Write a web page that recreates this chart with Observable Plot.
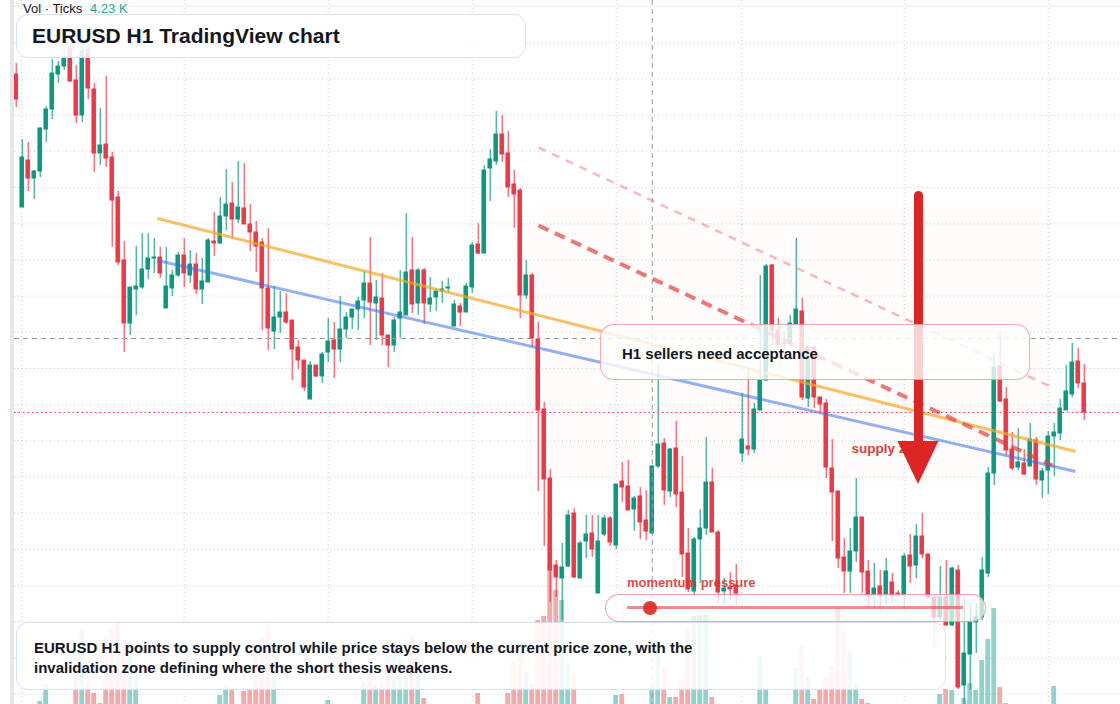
<!DOCTYPE html>
<html><head><meta charset="utf-8">
<script src="https://cdn.jsdelivr.net/npm/d3@7"></script>
<script src="https://cdn.jsdelivr.net/npm/@observablehq/plot@0.6"></script>
<style>
html,body{margin:0;padding:0;background:#fff;overflow:hidden;}
#wrap{position:relative;width:1120px;height:704px;font-family:"Liberation Sans",Arial,sans-serif;color:#131722;overflow:hidden;}
.layer{position:absolute;left:0;top:0;width:1120px;height:704px;}
.layer svg{display:block;}
.abs{position:absolute;box-sizing:border-box;}
.txt{position:absolute;white-space:nowrap;line-height:1;}
</style></head><body>
<div id="wrap">
  <div class="layer" id="back"></div>
  <div class="layer" id="vol"></div>
  <div class="layer" id="main"></div>
  <div class="abs" style="left:0;top:0;width:10px;height:704px;background:#fff"></div>
  <div class="abs" style="left:10px;top:0;width:4px;height:704px;background:#e6e7ea"></div>
  <div class="txt" style="left:23px;top:2px;font-size:13px;">Vol · Ticks</div>
  <div class="txt" id="volval" style="left:90px;top:2px;font-size:13px;color:#22ab94;"></div>
  <div class="abs" style="left:16px;top:14px;width:510px;height:44px;border:1.5px solid #d6e2f8;border-radius:12px;background:rgba(255,255,255,0.86)"></div>
  <div class="txt" style="left:32px;top:25.2px;font-size:21px;font-weight:bold;">EURUSD H1 TradingView chart</div>
  <div class="abs" style="left:600px;top:324px;width:430px;height:56px;border:1.5px solid rgba(238,100,100,0.55);border-radius:14px;background:rgba(255,255,255,0.8)"></div>
  <div class="txt" style="left:622px;top:346.3px;font-size:15px;font-weight:bold;">H1 sellers need acceptance</div>
  <div class="abs" style="left:605px;top:594px;width:381px;height:28px;border:1.5px solid rgba(238,100,100,0.6);border-radius:14px;background:rgba(255,255,255,0.72)"></div>
  <div class="abs" style="left:627px;top:606px;width:336px;height:3px;background:rgba(230,70,70,0.62)"></div>
  <div class="abs" id="mdot" style="top:600.5px;width:14px;height:14px;border-radius:7px;background:rgba(222,38,38,0.9)"></div>
  <div class="txt" style="left:627px;top:576px;font-size:13px;font-weight:bold;color:rgba(222,45,45,0.88);">momentum pressure</div>
  <div class="abs" style="left:16px;top:622px;width:930px;height:68px;border:1.5px solid #d6e2f8;border-radius:12px;background:rgba(255,255,255,0.88)"></div>
  <div class="abs" style="left:34px;top:637.8px;width:900px;font-size:15px;font-weight:bold;line-height:20px;">EURUSD H1 points to supply control while price stays below the current price zone, with the<br>invalidation zone defining where the short thesis weakens.</div>
</div>
<script>
// ---------- data (EURUSD H1 candles, left to right) ----------
const open = [
1.09778,1.09379,1.09520,1.09466,1.09487,1.09613,1.09673,1.09778,1.09802,1.09856,
1.09760,1.09655,1.09853,1.09733,1.09541,1.09568,1.09529,1.09409,1.09220,1.09031,
1.09133,1.09139,1.09193,1.09226,1.09229,1.09076,1.09136,1.09175,1.09235,1.09175,
1.09208,1.09133,1.09154,1.09277,1.09271,1.09352,1.09391,1.09343,1.09376,1.09328,
1.09304,1.09274,1.09136,1.09007,1.09049,1.09064,1.09040,1.08959,1.08920,1.08803,
1.08905,1.08872,1.08944,1.08980,1.08953,1.09013,1.09049,1.09073,1.09100,1.09151,
1.09091,1.09106,1.08995,1.08965,1.09046,1.09055,1.09190,1.09091,1.09190,1.09088,
1.09109,1.09127,1.09136,1.09022,1.09082,1.09064,1.09139,1.09268,1.09241,1.09496,
1.09517,1.09598,1.09541,1.09448,1.09430,1.09115,1.09175,1.08983,1.08773,1.08566,
1.08305,1.08266,1.08302,1.08461,1.08266,1.08377,1.08401,1.08221,1.08398,1.08446,
1.08365,1.08557,1.08542,1.08473,1.08512,1.08440,1.08401,1.08602,1.08671,1.08527,
1.08656,1.08524,1.08341,1.08227,1.08383,1.08416,1.08554,1.08404,1.08227,1.08239,
1.08245,1.08641,1.08662,1.08653,1.08770,1.08860,1.09205,1.09010,1.08968,1.08971,
1.09028,1.09067,1.08806,1.08959,1.08809,1.08791,1.08596,1.08527,1.08329,1.08287,
1.08347,1.08449,1.08287,1.08215,1.08242,1.08215,1.08254,1.08221,1.08215,1.08335,
1.08305,1.08392,1.08338,1.08209,1.08149,1.08209,1.08125,1.08290,1.07945,1.08038,
1.08134,1.08149,1.08281,1.08581,1.08902,1.08803,1.08653,1.08599,1.08611,1.08602,
1.08680,1.08560,1.08590,1.08692,1.08701,1.08770,1.08818,1.08917,1.08851];
const high = [
1.09811,1.09583,1.09574,1.09490,1.09619,1.09682,1.09823,1.09817,1.09856,1.09874,
1.09805,1.09880,1.09868,1.09751,1.09676,1.09772,1.09544,1.09427,1.09277,1.09139,
1.09262,1.09301,1.09301,1.09286,1.09259,1.09259,1.09190,1.09244,1.09286,1.09250,
1.09241,1.09226,1.09286,1.09364,1.09409,1.09493,1.09454,1.09517,1.09511,1.09388,
1.09337,1.09286,1.09316,1.09142,1.09127,1.09121,1.09040,1.08980,1.08920,1.08917,
1.08905,1.08944,1.09046,1.09034,1.09112,1.09064,1.09073,1.09109,1.09187,1.09289,
1.09160,1.09181,1.08995,1.09049,1.09190,1.09361,1.09289,1.09196,1.09196,1.09169,
1.09136,1.09157,1.09166,1.09100,1.09091,1.09151,1.09274,1.09331,1.09505,1.09553,
1.09667,1.09655,1.09607,1.09490,1.09436,1.09220,1.09181,1.09034,1.08794,1.08593,
1.08320,1.08371,1.08470,1.08476,1.08377,1.08455,1.08455,1.08455,1.08455,1.08452,
1.08548,1.08614,1.08620,1.08512,1.08539,1.08530,1.08605,1.08911,1.08686,1.08656,
1.08737,1.08632,1.08416,1.08389,1.08473,1.08689,1.08596,1.08410,1.08266,1.08284,
1.08308,1.08821,1.08893,1.08791,1.09175,1.09208,1.09208,1.09046,1.09010,1.09055,
1.09286,1.09106,1.08965,1.08965,1.08809,1.08803,1.08683,1.08527,1.08386,1.08416,
1.08566,1.08449,1.08320,1.08311,1.08290,1.08326,1.08281,1.08230,1.08341,1.08398,
1.08428,1.08461,1.08338,1.08215,1.08302,1.08320,1.08299,1.08305,1.08209,1.08188,
1.08191,1.08329,1.08599,1.08938,1.09004,1.08839,1.08704,1.08716,1.08653,1.08731,
1.08689,1.08596,1.08707,1.08731,1.08803,1.08905,1.08971,1.08956,1.08908];
const low = [
1.09679,1.09379,1.09427,1.09403,1.09469,1.09574,1.09643,1.09751,1.09790,1.09754,
1.09631,1.09634,1.09703,1.09484,1.09505,1.09499,1.09259,1.09205,1.08944,1.08995,
1.09055,1.09133,1.09163,1.09181,1.09166,1.09076,1.09112,1.09169,1.09139,1.09151,
1.09118,1.09088,1.09154,1.09232,1.09268,1.09310,1.09286,1.09331,1.09328,1.09247,
1.09184,1.09010,1.08950,1.08953,1.09001,1.09028,1.08860,1.08893,1.08827,1.08803,
1.08869,1.08851,1.08914,1.08866,1.08914,1.08986,1.09013,1.09010,1.09046,1.08965,
1.08980,1.08965,1.08899,1.08944,1.08986,1.09055,1.09061,1.09055,1.09028,1.09064,
1.09067,1.09091,1.09121,1.09022,1.09022,1.09064,1.09121,1.09238,1.09241,1.09397,
1.09505,1.09514,1.09409,1.09316,1.09046,1.09103,1.08959,1.08527,1.08362,1.08194,
1.08209,1.08140,1.08299,1.08266,1.08266,1.08326,1.08329,1.08221,1.08392,1.08362,
1.08353,1.08494,1.08470,1.08407,1.08383,1.08380,1.08398,1.08596,1.08485,1.08509,
1.08479,1.08269,1.08224,1.08212,1.08251,1.08395,1.08404,1.08191,1.08185,1.08200,
1.08185,1.08614,1.08635,1.08641,1.08770,1.08857,1.08965,1.08965,1.08950,1.08965,
1.09022,1.08800,1.08779,1.08776,1.08761,1.08566,1.08377,1.08296,1.08221,1.08221,
1.08314,1.08221,1.08179,1.08179,1.08170,1.08185,1.08191,1.08212,1.08170,1.08251,
1.08266,1.08326,1.08206,1.08059,1.08140,1.08122,1.08122,1.07933,1.07888,1.07930,
1.08041,1.08140,1.08269,1.08545,1.08794,1.08635,1.08590,1.08590,1.08575,1.08602,
1.08545,1.08506,1.08518,1.08572,1.08680,1.08770,1.08809,1.08836,1.08740];
const close = [
1.09703,1.09529,1.09466,1.09487,1.09616,1.09673,1.09781,1.09802,1.09829,1.09757,
1.09655,1.09847,1.09736,1.09541,1.09565,1.09526,1.09400,1.09214,1.09031,1.09139,
1.09142,1.09193,1.09226,1.09229,1.09181,1.09142,1.09175,1.09235,1.09181,1.09208,
1.09133,1.09157,1.09280,1.09271,1.09352,1.09388,1.09343,1.09379,1.09328,1.09304,
1.09262,1.09136,1.09016,1.09049,1.09064,1.09034,1.08953,1.08920,1.08839,1.08905,
1.08872,1.08938,1.08977,1.08953,1.09013,1.09049,1.09073,1.09097,1.09151,1.09094,
1.09109,1.08995,1.08965,1.09040,1.09064,1.09184,1.09088,1.09190,1.09091,1.09106,
1.09127,1.09133,1.09139,1.09088,1.09064,1.09142,1.09265,1.09241,1.09490,1.09523,
1.09598,1.09538,1.09439,1.09418,1.09115,1.09175,1.08986,1.08770,1.08563,1.08290,
1.08269,1.08299,1.08455,1.08269,1.08371,1.08398,1.08353,1.08377,1.08446,1.08374,
1.08548,1.08539,1.08470,1.08506,1.08434,1.08407,1.08602,1.08668,1.08530,1.08653,
1.08518,1.08338,1.08233,1.08383,1.08416,1.08554,1.08404,1.08224,1.08236,1.08233,
1.08221,1.08683,1.08653,1.08773,1.08860,1.09202,1.09010,1.08968,1.08971,1.09031,
1.09073,1.08809,1.08959,1.08809,1.08788,1.08599,1.08524,1.08326,1.08287,1.08347,
1.08449,1.08284,1.08215,1.08236,1.08215,1.08287,1.08215,1.08218,1.08332,1.08302,
1.08392,1.08338,1.08209,1.08149,1.08209,1.08125,1.08296,1.07939,1.08041,1.08137,
1.08149,1.08290,1.08581,1.08899,1.08797,1.08650,1.08596,1.08614,1.08578,1.08683,
1.08563,1.08587,1.08692,1.08704,1.08776,1.08827,1.08914,1.08851,1.08764];
// tick volume (bars below the pane edge read as 0)
const volume = [
0,0,0,0,90,600,0,0,0,0,
750,2220,690,330,30,1980,2220,2430,1920,1860,
840,0,0,0,0,0,0,0,0,0,
0,0,0,0,270,540,420,0,390,420,
1710,2010,2370,1020,0,0,0,0,0,0,
0,0,120,0,0,0,0,0,660,960,
570,660,1920,1560,1320,1020,2040,960,180,0,
0,0,0,0,0,0,0,330,0,0,
0,0,330,1290,1530,960,600,2520,2640,4170,
3420,3120,1230,900,0,0,0,0,0,0,
270,300,0,0,0,0,630,1470,1110,210,
210,720,2280,2640,2670,2670,210,0,0,0,
0,0,0,0,1410,420,0,0,0,0,
1080,1740,810,150,420,810,1140,2880,2160,1590,
600,150,30,0,0,0,0,0,0,0,
0,0,0,0,300,450,420,0,180,630,
420,1320,1950,2880,510,30,0,0,0,0,
0,0,0,540,0,0,0,0,0];
const volumeLabel = "4.23 K";
const gridPrices = [1.09982,1.09873,1.09765,1.09656,1.09548,1.09439,1.09330,1.09222,1.09113,1.09005,
  1.08896,1.08787,1.08679,1.08570,1.08462,1.08353,1.08244,1.08136,1.08027,1.07919];
const timeTicks = [0.9, 28, 52, 76, 100, 120.9, 148, 172];
const supplyZone = {start: 85.05, end: 172.7, top: 1.09379, bottom: 1.08557};
const resistanceLine = {i1: 23.55, p1: 1.09346, i2: 176.55, p2: 1.08647};
const supportLine = {i1: 23.55, p1: 1.09220, i2: 176.55, p2: 1.08587};
const upperChannel = {i1: 87.05, p1: 1.09559, i2: 172.7, p2: 1.08839};
const lowerChannel = {i1: 87.05, p1: 1.09325, i2: 172.7, p2: 1.08605};
const arrowPath = {i: 150.38, top: 1.09415, headTop: 1.08677, tip: 1.08548};
const crosshair = {i: 106, price: 1.08986};
const zoneLabel = {i: 139.2, price: 1.08654, text: "supply zone"};
const momentum = 0.07;

// ---------- layout constants ----------
const W = 1120, H = 704;
const X_DOMAIN = [-15.7 / 6, (W - 15.7) / 6];
const Y_DOMAIN = [1.07888, 1.1];
const BODY = 0.375, VOLW = 0.4, HEAD = 20.5 / 6, LEFT = -0.28;
const UP = "#089981", DN = "#f23645";

const N = open.length;
const idx = d3.range(N);
const upIdx = idx.filter(i => close[i] >= open[i]);
const dnIdx = idx.filter(i => close[i] < open[i]);
const base = {width: W, height: H, margin: 0,
  x: {type: "linear", domain: X_DOMAIN, axis: null},
  style: {background: "transparent", fontFamily: "Liberation Sans, Arial, sans-serif"}};

const back = Plot.plot({...base, y: {domain: Y_DOMAIN, axis: null}, marks: [
  Plot.rect([supplyZone], {x1: "start", x2: "end", y1: "bottom", y2: "top", fill: "#f4a582", fillOpacity: 0.035, rx: 12}),
  Plot.ruleY(gridPrices, {x1: LEFT, x2: X_DOMAIN[1], stroke: "#c7cad1", strokeDasharray: "1,3"}),
  Plot.ruleX(timeTicks, {stroke: "#c7cad1", strokeDasharray: "1,3"})
]});
document.getElementById("back").appendChild(back);

const volPlot = Plot.plot({...base, y: {domain: [0, 21120], axis: null}, marks: [
  Plot.rect(upIdx.filter(i => volume[i] > 0), {x1: i => i - VOLW, x2: i => i + VOLW, y1: 0, y2: i => volume[i], fill: "#26a69a", fillOpacity: 0.5}),
  Plot.rect(dnIdx.filter(i => volume[i] > 0), {x1: i => i - VOLW, x2: i => i + VOLW, y1: 0, y2: i => volume[i], fill: "#ef5350", fillOpacity: 0.5})
]});
document.getElementById("vol").appendChild(volPlot);

const link = (d, opts) => Plot.link([d], {x1: "i1", y1: "p1", x2: "i2", y2: "p2", ...opts});
const head = [
  {x: arrowPath.i - HEAD, y1: arrowPath.headTop, y2: arrowPath.headTop},
  {x: arrowPath.i, y1: arrowPath.headTop, y2: arrowPath.tip},
  {x: arrowPath.i + HEAD, y1: arrowPath.headTop, y2: arrowPath.headTop}];

const main = Plot.plot({...base, y: {domain: Y_DOMAIN, axis: null}, marks: [
  Plot.ruleX(upIdx, {x: i => i, y1: i => low[i], y2: i => high[i], stroke: UP, strokeWidth: 1}),
  Plot.ruleX(dnIdx, {x: i => i, y1: i => low[i], y2: i => high[i], stroke: DN, strokeWidth: 1}),
  Plot.rect(upIdx, {x1: i => i - BODY, x2: i => i + BODY, y1: i => open[i], y2: i => close[i], fill: UP, insetTop: -0.5, insetBottom: -0.5}),
  Plot.rect(dnIdx, {x1: i => i - BODY, x2: i => i + BODY, y1: i => open[i], y2: i => close[i], fill: DN, insetTop: -0.5, insetBottom: -0.5}),
  link(resistanceLine, {stroke: "#f5a623", strokeOpacity: 0.7, strokeWidth: 3}),
  link(supportLine, {stroke: "#3b6fe8", strokeOpacity: 0.55, strokeWidth: 3}),
  link(upperChannel, {stroke: "#ee5555", strokeOpacity: 0.4, strokeWidth: 2.5, strokeDasharray: "8,7"}),
  link(lowerChannel, {stroke: "#e53e3e", strokeOpacity: 0.7, strokeWidth: 4, strokeDasharray: "11,7"}),
  Plot.ruleY([close[N - 1]], {x1: LEFT, x2: X_DOMAIN[1], stroke: "#f23645", strokeDasharray: "1.5,3"}),
  Plot.ruleY([crosshair.price], {x1: LEFT, x2: X_DOMAIN[1], stroke: "#9598a1", strokeDasharray: "5,4"}),
  Plot.ruleX([crosshair.i], {stroke: "#9598a1", strokeDasharray: "5,4"}),
  Plot.text([zoneLabel], {x: "i", y: "price", text: "text", textAnchor: "start", fill: "#e03c3c", fontWeight: "bold", fontSize: 13.5}),
  Plot.link([arrowPath], {x1: "i", x2: "i", y1: "top", y2: d => d.headTop - 0.0001, stroke: "#dc2626", strokeWidth: 9, strokeLinecap: "round"}),
  Plot.areaY(head, {x: "x", y1: "y1", y2: "y2", fill: "#dc2626"})
]});
document.getElementById("main").appendChild(main);

document.getElementById("volval").textContent = volumeLabel;
document.getElementById("mdot").style.left = (627 + momentum * (962 - 627) - 7) + "px";
</script>
</body></html>
